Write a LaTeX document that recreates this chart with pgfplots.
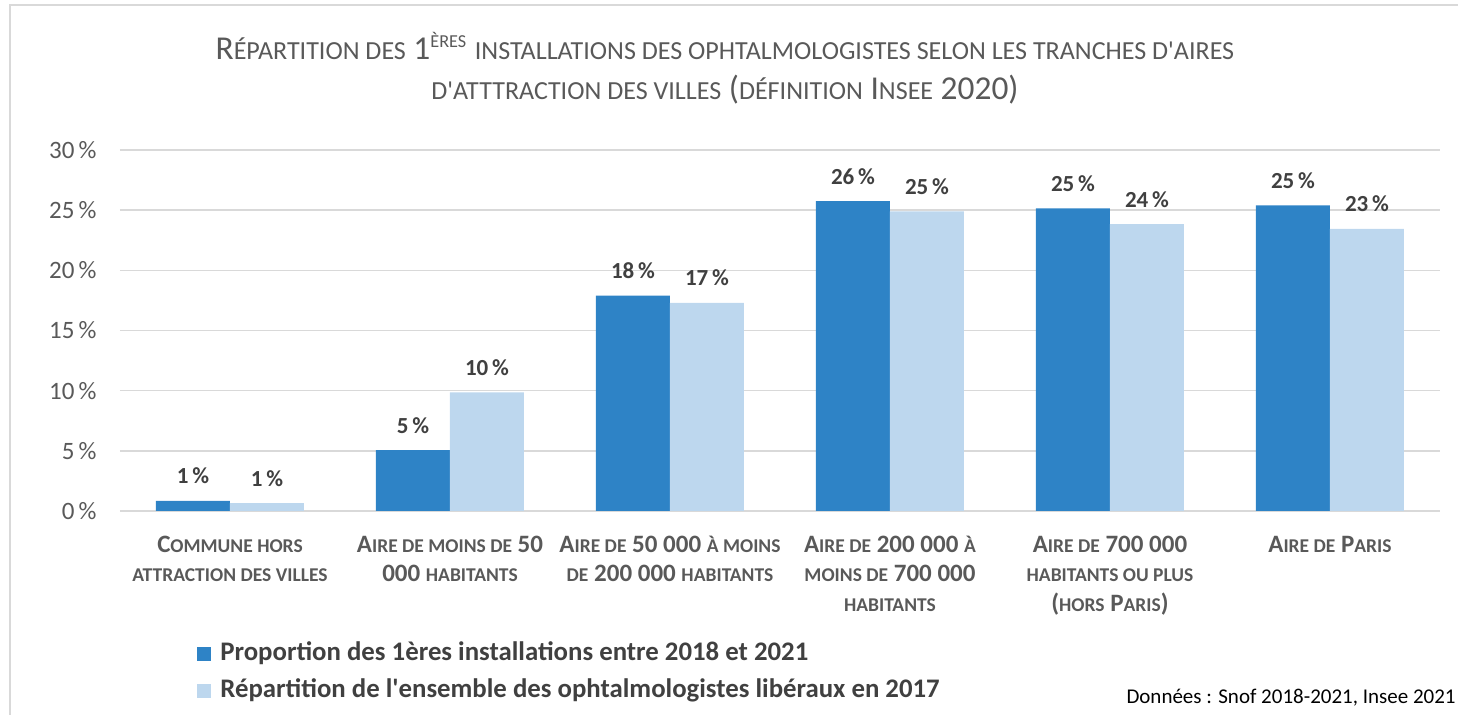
\documentclass[border=0pt]{standalone}
\usepackage{fontspec}
\setmainfont{Carlito}[Ligatures=TeXOff]
\usepackage{pgfplots}
\pgfplotsset{compat=1.18}
\definecolor{dblue}{HTML}{2E83C6}
\definecolor{lblue}{HTML}{BDD7EE}
\definecolor{txtgray}{HTML}{595959}
\definecolor{lblgray}{HTML}{404040}
\definecolor{gridgray}{HTML}{D9D9D9}
\makeatletter
\newcommand\s[1]{{\@tempdima=\f@size pt\@tempdima=0.78\@tempdima\fontsize{\strip@pt\@tempdima}{\f@baselineskip}\selectfont #1}}
\makeatother
\begin{document}
\begin{tikzpicture}[x=1pt,y=1pt]
\begin{axis}[
  scale only axis, width=660pt, height=180.5pt,
  xmin=-0.5, xmax=5.5, ymin=0, ymax=30,
  ybar=0pt, bar width=37pt,
  axis line style={draw=none},
  major tick length=0pt,
  ytick={0,5,...,30},
  yticklabels={0\,\%,5\,\%,10\,\%,15\,\%,20\,\%,25\,\%,30\,\%},
  yticklabel style={font=\fontsize{12.5}{14}\selectfont, text=txtgray, anchor=east, inner sep=0pt, xshift=-11.5pt},
  ymajorgrids, grid style={gridgray, line width=0.8pt},
  xtick={0,...,5},
  xticklabels={
    {\strut C\s{OMMUNE HORS}\\\s{ATTRACTION DES VILLES}},
    {\strut A\s{IRE DE MOINS DE} 50\\000 \s{HABITANTS}},
    {\strut A\s{IRE DE} 50~000 \s{À MOINS}\\\s{DE} 200~000 \s{HABITANTS}},
    {\strut A\s{IRE DE} 200~000 \s{À}\\\s{MOINS DE} 700~000\\\s{HABITANTS}},
    {\strut A\s{IRE DE} 700~000\\\s{HABITANTS OU PLUS}\\(\s{HORS} P\s{ARIS})},
    {\strut A\s{IRE DE} P\s{ARIS}}},
  xticklabel style={align=center, font=\bfseries\fontsize{12.5}{14.75}\selectfont, text=txtgray, anchor=north, inner sep=0pt, yshift=-10.2pt},
  nodes near coords={\pgfmathprintnumber[fixed,precision=0,assume math mode=true]{\pgfplotspointmeta}\,\%},
  every node near coord/.append style={font=\bfseries\fontsize{11.5}{13}\selectfont, text=lblgray, anchor=base, inner sep=0pt, yshift=8.5pt},
  legend style={at={(0.0583,-0.363)}, anchor=north west, draw=none, fill=none, inner sep=0pt,
    font=\bfseries\fontsize{13.4}{15}\selectfont, text=lblgray, row sep=7pt,
    nodes={inner sep=0pt, text height=9pt, text depth=2.5pt}},
  legend cell align=left,
  legend image code/.code={\path[#1,draw=none] (0pt,-3.5pt) rectangle (7pt,3.5pt);},
  legend style={/tikz/every odd column/.append style={column sep=4.5pt}},
]
\addplot[fill=dblue, draw=none] coordinates {(0,0.85) (1,5.05) (2,17.9) (3,25.75) (4,25.15) (5,25.4)};
\addplot[fill=lblue, draw=none] coordinates {(0,0.65) (1,9.85) (2,17.3) (3,24.9) (4,23.85) (5,23.45)};
\legend{Proportion des 1ères installations entre 2018 et 2021, Répartition de l'ensemble des ophtalmologistes libéraux en 2017}
\end{axis}
\node[anchor=base, text=txtgray, font=\fontsize{16.7}{18}\selectfont, inner sep=0pt] at (302.5,225.5)
  {R\s{ÉPARTITION DES} 1\textsuperscript{\s{ÈRES}} \s{INSTALLATIONS DES OPHTALMOLOGISTES SELON LES TRANCHES D'AIRES}};
\node[anchor=base, text=txtgray, font=\fontsize{16.7}{18}\selectfont, inner sep=0pt] at (302.5,205.5)
  {\s{D'ATTTRACTION DES VILLES} (\s{DÉFINITION} I\s{NSEE} 2020)};
\node[anchor=base east, font=\fontsize{10.5}{12}\selectfont, inner sep=0pt] at (668,-96.5)
  {Données : Snof 2018-2021, Insee 2021};
\draw[gridgray, line width=1pt] (-54.75,-102) -- (-54.75,253) -- (669,253);
\pgfresetboundingbox
\useasboundingbox (-60,-102) rectangle (669,255.5);
\end{tikzpicture}
\end{document}
